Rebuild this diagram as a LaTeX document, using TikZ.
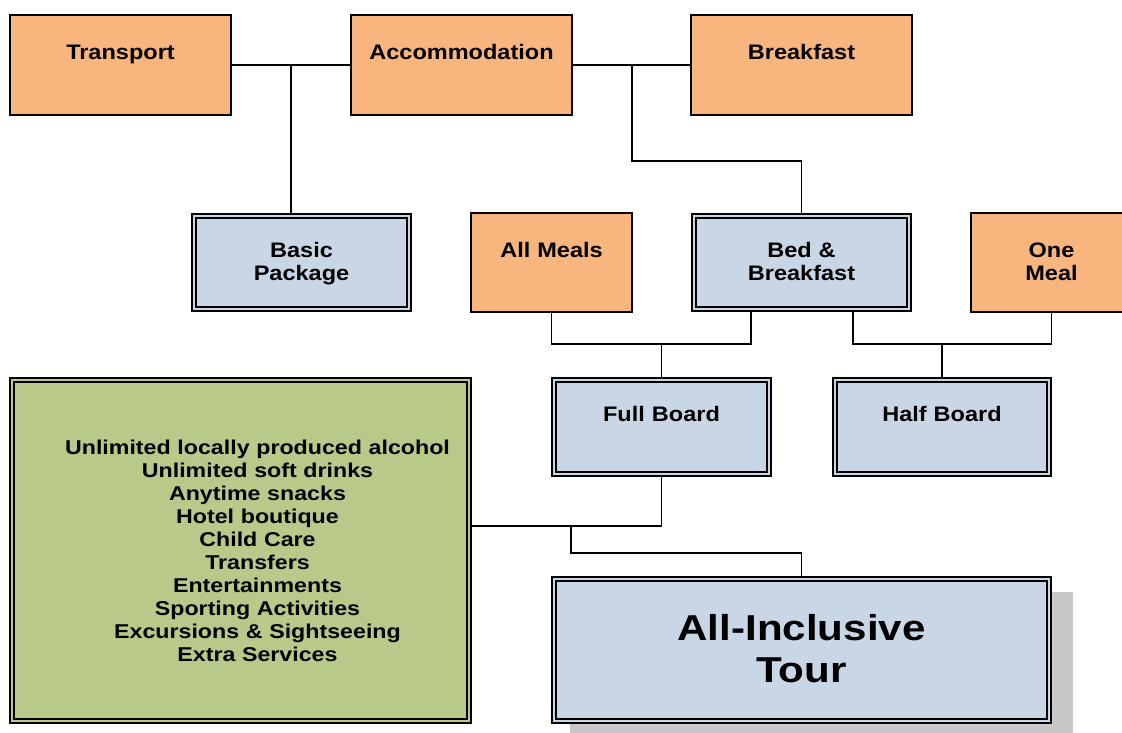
\documentclass[tikz,border=0pt]{standalone}
\usepackage{fontspec}
\setmainfont{Liberation Sans}
\newfontfamily\lblfont[FakeStretch=1.12]{Liberation Sans}
\newfontfamily\lstfont[FakeStretch=1.16]{Liberation Sans}
\newfontfamily\tourfont[FakeStretch=1.17]{Liberation Sans}
\usetikzlibrary{backgrounds}

\definecolor{orng}{RGB}{248,182,126}
\definecolor{pale}{RGB}{201,214,229}
\definecolor{olive}{RGB}{184,201,138}
\definecolor{shadowgray}{RGB}{200,200,200}

\tikzset{
  boxbase/.style={anchor=north west, inner sep=0pt, outer sep=0pt, align=center, text=black},
  single/.style={boxbase, draw, line width=1.4pt, fill=orng,
                 font=\lblfont\bfseries\fontsize{21}{23}\selectfont},
  dbl/.style={boxbase, draw, line width=1.6pt, double=#1, double distance=2.4pt, fill=#1},
  paleb/.style={dbl=pale, font=\lblfont\bfseries\fontsize{21}{23}\selectfont},
  link/.style={line width=1.4pt, black}
}

\begin{document}
\begin{tikzpicture}[x=1pt, y=-1pt]
\path[use as bounding box] (0,0) rectangle (1122,733);

% top row: components
\node[single, text width=221pt, text height=45pt, text depth=55pt] (tr)  at (10,15)  {Transport};
\node[single, text width=221pt, text height=45pt, text depth=55pt] (acc) at (351,15) {Accommodation};
\node[single, text width=221pt, text height=45pt, text depth=55pt] (bf)  at (691,15) {Breakfast};

% second row
\node[paleb, text width=215.5pt, text height=41.75pt, text depth=51.75pt] (bp) at (193.75,215.75) {Basic\\Package};
\node[single, text width=161pt, text height=44.5pt, text depth=54.5pt] (am) at (471,213) {All Meals};
\node[paleb, text width=215.5pt, text height=41.75pt, text depth=51.75pt] (bb) at (693.75,215.75) {Bed \&\\Breakfast};
\node[single, text width=161pt, text height=44.5pt, text depth=54.5pt] (om) at (971,213) {One\\Meal};

% third row: boards
\node[paleb, text width=215.5pt, text height=41.75pt, text depth=52.75pt] (fb) at (553.75,379.75) {Full Board};
\node[paleb, text width=214.5pt, text height=41.75pt, text depth=52.75pt] (hb) at (834.75,379.75) {Half Board};

% list of extras
\node[dbl=olive, font=\lstfont\bfseries\fontsize{20}{23}\selectfont,
      text width=457.5pt, text height=74.25pt, text depth=267.25pt] (inc) at (11.75,379.75)
  {\hspace*{34pt}\begin{tabular}[t]{@{}c@{}}
    Unlimited locally produced alcohol\\
    Unlimited soft drinks\\
    Anytime snacks\\
    Hotel boutique\\
    Child Care\\
    Transfers\\
    Entertainments\\
    Sporting Activities\\
    Excursions \& Sightseeing\\
    Extra Services
  \end{tabular}};

% final product
\node[dbl=pale, font=\tourfont\bfseries\fontsize{36}{42}\selectfont,
      text width=495.5pt, text height=61.75pt, text depth=80.75pt] (ait) at (553.75,578.75)
  {All-Inclusive\\Tour};

\begin{pgfonlayer}{background}
  % page ground
  \fill[white] (0,0) rectangle (1122,733);
  % shadow of the final product
  \fill[shadowgray] ([shift={(16.25pt,-13.25pt)}]ait.north west) rectangle ([shift={(23.75pt,-20pt)}]ait.south east);

  % connectors
  \coordinate (k1) at (291,65);
  \coordinate (k2) at (632,65);
  \coordinate (k4) at (751,344);
  \coordinate (k5) at (853,344);
  \coordinate (k6) at (571,526);

  \draw[link] (tr.east) -- (acc.west);
  \draw[link] (k1) -- (k1 |- bp.north);
  \draw[link] (acc.east) -- (bf.west);
  \draw[link] (k2) -- ++(0,96) -| (bb.north);

  \draw[link] (am.south) |- (k4) -- (k4 |- bb.south);
  \draw[link] (k4 -| fb.north) -- (fb.north);

  \draw[link] (k5 |- bb.south) -- (k5) -| (om.south);
  \draw[link] (k5 -| hb.north) -- (hb.north);

  \draw[link] (fb.south) |- (k6 -| inc.east);
  \draw[link] (k6) -- ++(0,27) -| (ait.north);
\end{pgfonlayer}
\end{tikzpicture}
\end{document}
